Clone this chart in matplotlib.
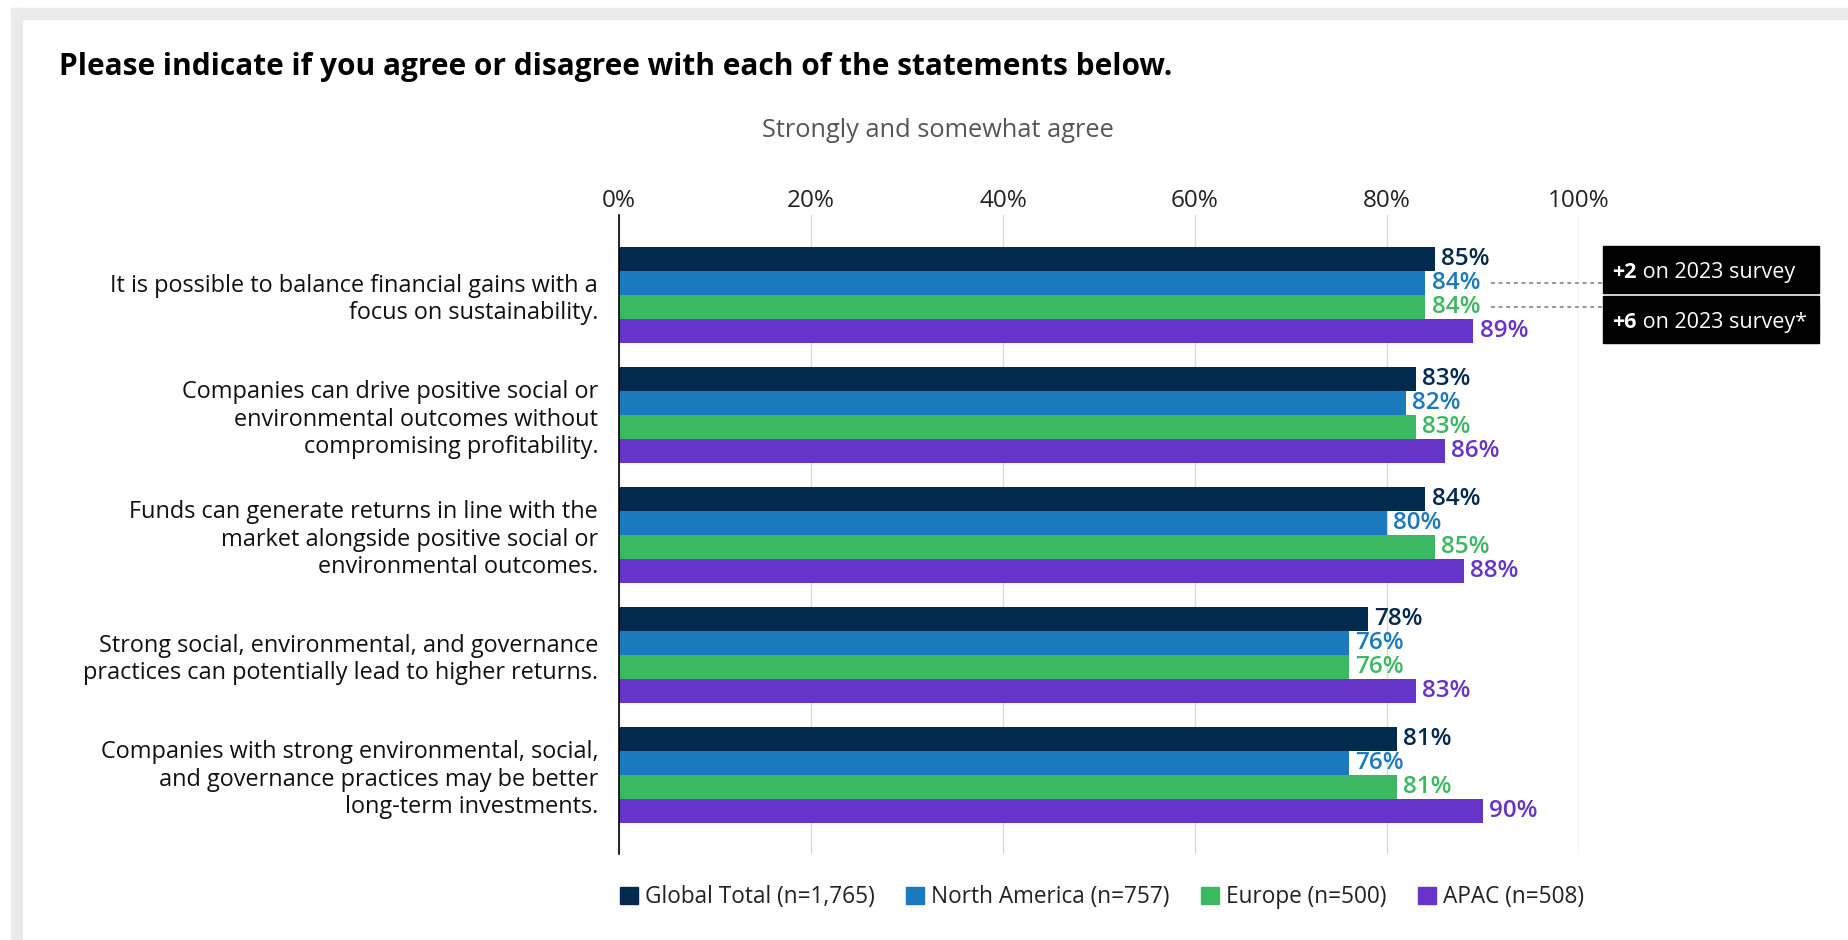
import matplotlib.pyplot as plt
from matplotlib.patches import Patch, Rectangle
import numpy as np

plt.rcParams['font.family'] = ['Open Sans', 'DejaVu Sans']

# Survey data: share who strongly / somewhat agree (%)
statements = [
    'It is possible to balance financial gains with a\nfocus on sustainability.',
    'Companies can drive positive social or\nenvironmental outcomes without\ncompromising profitability.',
    'Funds can generate returns in line with the\nmarket alongside positive social or\nenvironmental outcomes.',
    'Strong social, environmental, and governance\npractices can potentially lead to higher returns.',
    'Companies with strong environmental, social,\nand governance practices may be better\nlong-term investments.',
]
regions = ['Global Total (n=1,765)', 'North America (n=757)', 'Europe (n=500)', 'APAC (n=508)']
global_total = [85, 83, 84, 78, 81]
north_america = [84, 82, 80, 76, 76]
europe = [84, 83, 85, 76, 81]
apac = [89, 86, 88, 83, 90]
colors = ['#022a4f', '#1b79bd', '#3db862', '#6634c9']

# callouts on first statement: (region index, bold part, rest)
callouts = [(1, '+2', ' on 2023 survey'), (2, '+6', ' on 2023 survey*')]

series = [global_total, north_america, europe, apac]
n_groups = len(statements)
pitch = 5  # four bars + one gap

fig = plt.figure(figsize=(18.48, 9.4), dpi=100)
ax = fig.add_axes([0.33496, 0.09149, 0.51948, 0.6798])

for k, (vals, c) in enumerate(zip(series, colors)):
    ys = np.arange(n_groups) * pitch + k
    ax.barh(ys, vals, height=1.0, color=c, zorder=3)
    for y, v in zip(ys, vals):
        ax.annotate(f'{v}%', xy=(v, y), xytext=(4.5, 0), textcoords='offset points',
                    ha='left', va='center', fontsize=17.5, fontweight='semibold', color=c)

ax.set_xlim(0, 100)
ax.set_ylim(24.8, -1.83)
ax.set_xticks(range(0, 101, 20))
ax.set_xticklabels([f'{t}%' for t in range(0, 101, 20)], fontsize=17.5, color='#222222')
ax.xaxis.tick_top()
ax.tick_params(axis='x', length=0, pad=1.5)
ax.set_yticks(np.arange(n_groups) * pitch + 1.5)
ax.set_yticklabels(statements, fontsize=16.9, color='#111111', linespacing=1.2)
ax.tick_params(axis='y', length=0, pad=15)
ax.grid(axis='x', color='#d9d9d9', linewidth=1, zorder=0)
for s in ['top', 'right', 'bottom']:
    ax.spines[s].set_visible(False)
ax.spines['left'].set_color('black')
ax.spines['left'].set_linewidth(1.2)
ax.spines['left'].set_zorder(4)

# callout boxes with dashed leaders
box_x0, box_x1 = 102.5, 125.0
box_tops = [-0.54, 1.54]
for (k, bold, rest), top in zip(callouts, box_tops):
    v = series[k][0]
    ax.plot([v + 6.8, box_x0], [k, k], ls=(0, (2.5, 2.5)), color='#777777', lw=1.1, clip_on=False)
    ax.add_patch(Rectangle((box_x0, top), box_x1 - box_x0, 1.96, color='black', clip_on=False, zorder=5))
    t1 = ax.text(box_x0 + 1.0, top + 1.12, bold, fontsize=15.5, fontweight='bold', color='white',
                 ha='left', va='center', zorder=6)
    ax.annotate(rest, xy=(1, 0), xycoords=t1, ha='left', va='bottom', fontsize=15.5,
                color='white', zorder=6)

fig.text(0.0319, 0.9287, 'Please indicate if you agree or disagree with each of the statements below.',
         fontsize=21.5, fontweight='bold', color='black', va='center')
fig.text(0.5076, 0.861, 'Strongly and somewhat agree', fontsize=18.3, color='#555555',
         ha='center', va='center')

handles = [Patch(color=c, label=r) for c, r in zip(colors, regions)]
fig.legend(handles=handles, loc='center left', bbox_to_anchor=(0.3244, 0.0453), ncol=4,
           frameon=False, fontsize=16.3, handlelength=0.8, handleheight=0.8,
           handletextpad=0.3, columnspacing=1.4, labelcolor='#222222')

# light grey frame on the top and left edges
fig.patches.append(Rectangle((11 / 1848, 0), 11 / 1848, 1 - 8 / 940, transform=fig.transFigure,
                             color='#ebebeb', zorder=0))
fig.patches.append(Rectangle((11 / 1848, 1 - 19 / 940), 1, 11 / 940, transform=fig.transFigure,
                             color='#ebebeb', zorder=0))

fig.savefig('out.png', dpi=100)
